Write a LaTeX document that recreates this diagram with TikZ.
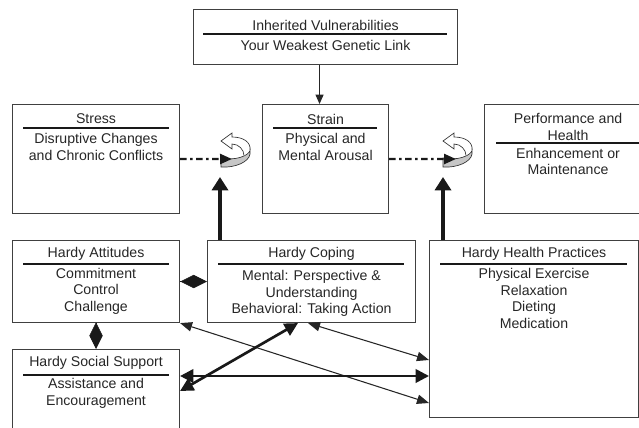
\documentclass[tikz,border=0pt]{standalone}
\usepackage{fontspec}
\setmainfont{Liberation Sans}
\usetikzlibrary{arrows.meta,calc}

\tikzset{
  box/.style={draw=black!75, line width=0.8pt, anchor=north west, inner sep=0pt},
  boxtext/.style={align=center, text=black!85, inner sep=0pt, font=\fontsize{10.6}{12.4}\selectfont},
  sep/.style={line width=1.5pt, draw=black!90},
  thinarrow/.style={line width=0.8pt, draw=black!85, {Triangle[length=9pt,width=7pt]}-{Triangle[length=9pt,width=7pt]}},
  boldarrow/.style={line width=2pt, draw=black!90, {Triangle[length=10pt,width=10pt]}-{Triangle[length=10pt,width=10pt]}},
  uparrow/.style={line width=2.6pt, draw=black!90, -{Triangle[length=10pt,width=12pt]}},
  dasharrow/.style={line width=1.8pt, draw=black!90, dash pattern=on 5pt off 2.5pt on 2pt off 2.5pt, -{Triangle[length=9pt,width=7.5pt]}},
  diam/.style={draw=black!90, -{Diamond[length=20pt,width=10pt]}},
  turnarrow/.pic={
    \draw[fill=gray!45, line width=0.5pt, draw=black!80] (0,0) .. controls (14,3) and (28,-2) .. (29,-8) -- (29,-4) .. controls (28,4) and (14,10) .. (0,9) -- cycle;
    \draw[fill=white, line width=0.5pt, draw=black!80] (29,-8) .. controls (30,-16) and (22,-21) .. (11,-21) -- (11,-25) -- (0,-17) -- (11,-9) -- (11,-14) .. controls (18,-14) and (23,-8) .. (23,-2.5);
  }
}

\begin{document}
\begin{tikzpicture}[x=0.75pt,y=-0.75pt]
  \useasboundingbox (0,0) rectangle (639,428);
  \clip (0,0) rectangle (639,428);

  %coordinates
  \coordinate (InhBox)  at (193,9);
  \coordinate (StrBox)  at (12,104);
  \coordinate (SnBox)   at (262,104);
  \coordinate (PerfBox) at (484,104);
  \coordinate (AttBox)  at (12,240);
  \coordinate (CopBox)  at (207,240);
  \coordinate (SocBox)  at (12,349);
  \coordinate (HeaBox)  at (429,240);
  \coordinate (TurnA)   at (221,158);
  \coordinate (TurnB)   at (443,158);
  \coordinate (TipA)    at (232,159);
  \coordinate (TipB)    at (456,159);
  \coordinate (UpA)     at (220,177);
  \coordinate (UpB)     at (443,177);

  %boxes
  \node[box, minimum width=198pt, minimum height=41.25pt] (A) at (InhBox) {};
  \node[box, minimum width=125.25pt, minimum height=81.75pt] (B) at (StrBox) {};
  \node[box, minimum width=94.5pt, minimum height=81.75pt] (C) at (SnBox) {};
  \node[box, minimum width=125.25pt, minimum height=81.75pt] (D) at (PerfBox) {};
  \node[box, minimum width=125.25pt, minimum height=61.5pt] (E) at (AttBox) {};
  \node[box, minimum width=156pt, minimum height=61.5pt] (F) at (CopBox) {};
  \node[box, minimum width=125.25pt, minimum height=67.5pt] (G) at (SocBox) {};
  \node[box, minimum width=156.75pt, minimum height=132.75pt] (H) at (HeaBox) {};

  %titles and texts
  \node[boxtext] (At) at ($(A.north)+(0,16)$) {Inherited Vulnerabilities};
  \node[boxtext] (Ab) at ($(A.north)+(0,36)$) {Your Weakest Genetic Link};
  \node[boxtext] (Bt) at ($(B.north)+(0,15)$) {Stress};
  \node[boxtext] (Bb) at ($(B.north)+(0,43)$) {Disruptive Changes\\and Chronic Conflicts};
  \node[boxtext] (Ct) at ($(C.north)+(0,15)$) {Strain};
  \node[boxtext] (Cb) at ($(C.north)+(0,43)$) {Physical and\\Mental Arousal};
  \node[boxtext] (Dt) at ($(D.north)+(0,23)$) {Performance and\\Health};
  \node[boxtext] (Db) at ($(D.north)+(0,57.5)$) {Enhancement or\\Maintenance};
  \node[boxtext] (Et) at ($(E.north)+(0,14)$) {Hardy Attitudes};
  \node[boxtext] (Eb) at ($(E.north)+(0,51)$) {Commitment\\Control\\Challenge};
  \node[boxtext] (Ft) at ($(F.north)+(0,14)$) {Hardy Coping};
  \node[boxtext] (Fb) at ($(F.north)+(0,53.5)$) {Mental: Perspective \&\\Understanding\\Behavioral: Taking Action};
  \node[boxtext] (Gt) at ($(G.north)+(0,14)$) {Hardy Social Support};
  \node[boxtext] (Gb) at ($(G.north)+(0,44.5)$) {Assistance and\\Encouragement};
  \node[boxtext] (Ht) at ($(H.north)+(0,14)$) {Hardy Health Practices};
  \node[boxtext] (Hb) at ($(H.north)+(0,58.5)$) {Physical Exercise\\Relaxation\\Dieting\\Medication};

  %separators
  \draw[sep] ($(A.north west)+(10,25)$) -- ($(A.north east)+(-11,25)$);
  \draw[sep] ($(B.north west)+(11,24)$) -- ($(B.north east)+(-11,24)$);
  \draw[sep] ($(C.north west)+(11,24)$) -- ($(C.north east)+(-12,24)$);
  \draw[sep] ($(D.north west)+(12,39)$) -- ($(D.north east)+(0,39)$);
  \draw[sep] ($(E.north west)+(11,24)$) -- ($(E.north east)+(-11,24)$);
  \draw[sep] ($(F.north west)+(11,24)$) -- ($(F.north east)+(-12,24)$);
  \draw[sep] ($(G.north west)+(11,26)$) -- ($(G.north east)+(-11,26)$);
  \draw[sep] ($(H.north west)+(11,24)$) -- ($(H.north east)+(-12,24)$);

  %turning arrows
  \pic at (TurnA) {turnarrow};
  \pic at (TurnB) {turnarrow};

  %connectors
  \draw[line width=0.8pt, draw=black!85, -{Triangle[length=7pt,width=6pt]}] ([xshift=-4.5pt]A.south) -- ([xshift=-4.5pt]A.south |- C.north);
  \draw[dasharrow] (B.east) -- (TipA);
  \draw[dasharrow] (C.east) -- (TipB);
  \draw[uparrow] (UpA |- F.north) -- (UpA);
  \draw[uparrow] (UpB |- H.north) -- (UpB);
  \draw[diam] (E.east) -- (F.west);
  \draw[diam] (E.south) -- (G.north);
  \draw[thinarrow] (E.south east) -- (H.west |- 0,403);
  \draw[thinarrow] (308,0 |- F.south) -- (H.west |- 0,360);
  \draw[boldarrow] (G.east |- 0,376) -- (H.west |- 0,376);
  \draw[boldarrow] (298,0 |- F.south) -- (G.east |- 0,391);

\end{tikzpicture}
\end{document}
